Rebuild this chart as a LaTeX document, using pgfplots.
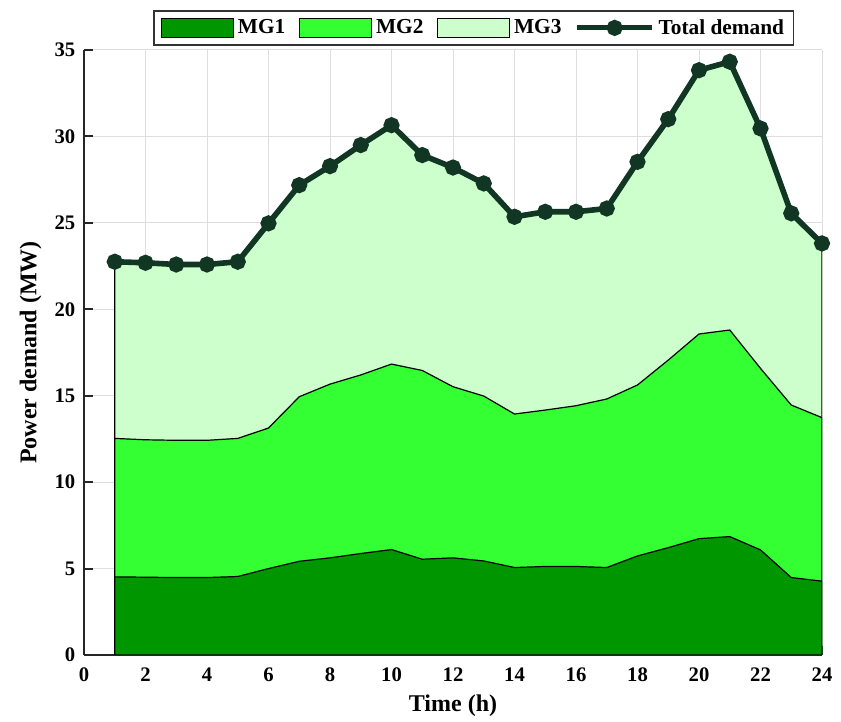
\documentclass[border=0pt]{standalone}
\usepackage{pgfplots}
\pgfplotsset{compat=1.18}
\usepackage{pgfplotstable}
\usepackage{fontspec}
\setmainfont{Liberation Serif}
\definecolor{mgone}{RGB}{0,150,0}
\definecolor{mgtwo}{RGB}{51,255,51}
\definecolor{mgthree}{RGB}{204,255,204}
\definecolor{totc}{RGB}{18,54,36}
\pgfplotsset{
  arealeg/.style={legend image code/.code={\draw[##1] (0pt,-7.1pt) rectangle (54pt,7.1pt);}},
  lineleg/.style={legend image code/.code={\draw[##1, mark=none, line width=3.8pt] (0pt,0pt) -- (56pt,0pt); \path[##1] plot coordinates {(28pt,0pt)};}},
}
% cumulative levels
\pgfplotstableread{
h mgone toptwo total
1 4.52 12.53 22.75
2 4.50 12.45 22.69
3 4.48 12.42 22.59
4 4.48 12.42 22.59
5 4.54 12.53 22.75
6 5.00 13.13 24.97
7 5.42 14.94 27.18
8 5.62 15.67 28.28
9 5.87 16.20 29.50
10 6.10 16.83 30.65
11 5.54 16.46 28.92
12 5.62 15.52 28.20
13 5.44 14.98 27.28
14 5.06 13.94 25.35
15 5.12 14.17 25.64
16 5.12 14.42 25.64
17 5.06 14.81 25.83
18 5.73 15.62 28.53
19 6.21 17.06 31.00
20 6.73 18.57 33.83
21 6.85 18.80 34.32
22 6.08 16.58 30.46
23 4.48 14.46 25.55
24 4.27 13.73 23.81
}\datatab
\begin{document}
\begin{tikzpicture}
\begin{axis}[
  scale only axis,
  width=553.5pt, height=453.75pt,
  xmin=0, xmax=24, ymin=0, ymax=35,
  xtick={0,2,...,24}, ytick={0,5,...,35},
  axis x line*=bottom, axis y line*=left,
  axis line style={line width=1.5pt, black!85},
  tick align=inside, major tick length=7pt,
  tick style={line width=1.5pt, black!85},
  grid=major, grid style={line width=0.75pt, black!13},
  /pgf/number format/assume math mode=true,
  ticklabel style={font=\fontsize{15.5}{18}\selectfont\bfseries},
  yticklabel style={xshift=-3pt},
  xticklabel style={yshift=-6pt},
  xlabel={Time (h)}, ylabel={Power demand (MW)},
  label style={font=\fontsize{18}{21}\selectfont\bfseries},
  xlabel style={yshift=-3pt},
  ylabel style={yshift=3pt},
  legend columns=4,
  legend style={at={(0.528,1.007)}, anchor=south, draw=black!80, line width=1.2pt,
    font=\fontsize{16}{18}\selectfont\bfseries, inner xsep=5pt, inner ysep=4.5pt,
    /tikz/every even column/.append style={column sep=8pt},
    /tikz/every odd column/.append style={column sep=1pt}},
  legend cell align=left,
]
\addlegendimage{arealeg, fill=mgone, draw=black, line width=1pt}
\addlegendentry{MG1}
\addlegendimage{arealeg, fill=mgtwo, draw=black, line width=1pt}
\addlegendentry{MG2}
\addlegendimage{arealeg, fill=mgthree, draw=black, line width=1pt}
\addlegendentry{MG3}
\addlegendimage{lineleg, totc, line width=4.2pt, mark=*, mark size=3.9pt}
\addlegendentry{Total demand}
\addplot[fill=mgthree, draw=black, line width=0.9pt, forget plot] table[x=h, y=total] {\datatab} \closedcycle;
\addplot[fill=mgtwo, draw=black, line width=0.9pt, forget plot] table[x=h, y=toptwo] {\datatab} \closedcycle;
\addplot[fill=mgone, draw=black, line width=0.9pt, forget plot] table[x=h, y=mgone] {\datatab} \closedcycle;
\addplot[totc, line width=4.2pt, mark=*, mark size=3.9pt, forget plot] table[x=h, y=total] {\datatab};
\end{axis}
\pgfresetboundingbox
\path[use as bounding box] ([shift={(-63pt,-50.25pt)}]current axis.south west) rectangle ([shift={(14.25pt,37.5pt)}]current axis.north east);
\end{tikzpicture}
\end{document}
